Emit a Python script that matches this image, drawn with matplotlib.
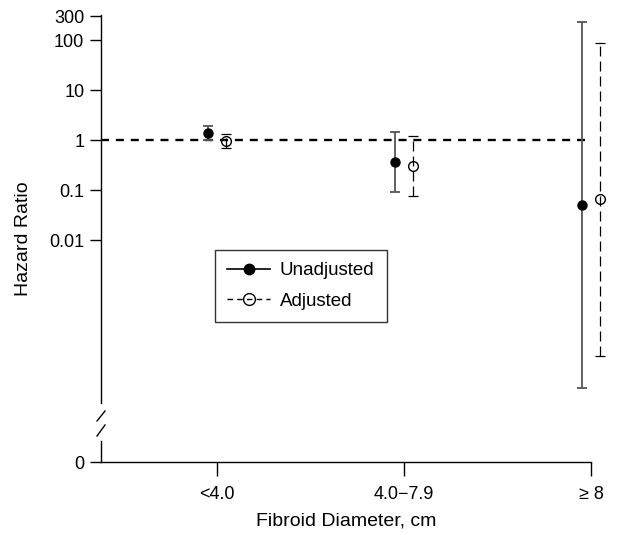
import numpy as np
import matplotlib
matplotlib.use("Agg")
import matplotlib.pyplot as plt
from matplotlib.lines import Line2D

plt.rcParams['font.family'] = ['Liberation Sans', 'DejaVu Sans']

categories = ['<4.0', '4.0\u22127.9', '\u2265 8']
unadj_hr = [1.38, 0.36, 0.050]
unadj_lo = [1.0, 0.092, 1.1e-5]
unadj_hi = [1.9, 1.45, 230.0]
adj_hr = [0.95, 0.30, 0.066]
adj_lo = [0.69, 0.076, 4.8e-5]
adj_hi = [1.3, 1.2, 87.0]
ytick_vals = [0.01, 0.1, 1, 10, 100, 300]
ytick_labels = ['0.01', '0.1', '1', '10', '100', '300']

W, H = 619, 535
fig = plt.figure(figsize=(W / 100, H / 100), dpi=100)
L, R, T, B = 101, 591, 15, 462
ax = fig.add_axes([L / W, (H - B) / H, (R - L) / W, (B - T) / H])

# log mapping: 1 at y=140px, 50 px per decade
def lv(ypx):
    return 10 ** ((140 - ypx) / 50)

ax.set_yscale('log')
ymin, ymax = lv(B), lv(T)
ax.set_ylim(ymin, ymax)
x = np.arange(1, len(categories) + 1)
ax.set_xlim(1 - 116 / 187, 3)

off = 0.048
ux = x - off
axx = x + off

def noclip(obj):
    for a in obj.get_children() if hasattr(obj, 'get_children') else obj:
        a.set_clip_on(False)

# reference line
ax.axhline(1, color='black', lw=1.7, dashes=(3.4, 2.9), zorder=1)

# unadjusted
uy = np.array(unadj_hr)
ue = [uy - np.array(unadj_lo), np.array(unadj_hi) - uy]
eb1 = ax.errorbar(ux, uy, yerr=ue, fmt='none', ecolor='#555555', elinewidth=1.3,
                  capsize=3.8, capthick=1.3, zorder=2)
noclip(eb1)
p1 = ax.plot(ux, uy, 'o', color='black', ms=6.5, zorder=3)
noclip(p1)

# adjusted
ay = np.array(adj_hr)
ae = [ay - np.array(adj_lo), np.array(adj_hi) - ay]
eb2 = ax.errorbar(axx, ay, yerr=ae, fmt='none', ecolor='black', elinewidth=0.9,
                  capsize=3.8, capthick=0.9, zorder=2)
for lc in eb2[2]:
    lc.set_linestyle((0, (8, 4)))
noclip(eb2)
p2 = ax.plot(axx, ay, 'o', color='black', mfc='none', mew=1.0, ms=7, zorder=3)
noclip(p2)

ax.set_yticks([ymin] + ytick_vals)
ax.set_yticklabels(['0'] + ytick_labels)
ax.minorticks_off()
ax.set_xticks(x)
ax.set_xticklabels(categories)
ax.tick_params(axis='both', labelsize=13, length=8, width=1.0, direction='out',
               color='black', pad=4)
ax.tick_params(axis='x', length=10, pad=7)

for s in ['top', 'right']:
    ax.spines[s].set_visible(False)
ax.spines['left'].set_bounds(lv(403), ymax)
ax.spines['left'].set_linewidth(1.0)
ax.spines['bottom'].set_linewidth(1.0)

bt = ax.get_yaxis_transform()
ax.add_line(Line2D([0, 0], [lv(441), lv(462)], transform=bt, color='black',
                   lw=1.0, clip_on=False))
dx = 4 / (R - L)
ax.add_line(Line2D([-dx, dx], [lv(421), lv(411)], transform=bt, color='black',
                   lw=1.0, clip_on=False))
ax.add_line(Line2D([-dx, dx], [lv(436), lv(425)], transform=bt, color='black',
                   lw=1.0, clip_on=False))

ax.set_xlabel('Fibroid Diameter, cm', fontsize=14)
ax.xaxis.set_label_coords(0.5, -(512 - B) / (B - T))
ax.set_ylabel('Hazard Ratio', fontsize=14)
ax.yaxis.set_label_coords(-(L - 32) / (R - L), (B - 239) / (B - T))

h1 = Line2D([], [], color='black', lw=1.2, marker='o', ms=7.5)
h2 = Line2D([], [], color='black', lw=1.0, ls=(0, (4, 3)), marker='o', mfc='none', ms=8.5, mew=1.0)
leg = fig.legend([h1, h2], ['Unadjusted', 'Adjusted'], loc='upper left',
                 bbox_to_anchor=(215 / W, (H - 250) / H), fontsize=13.5,
                 frameon=True, fancybox=False, edgecolor='black',
                 borderaxespad=0, handlelength=2.3, labelspacing=0.7,
                 borderpad=0.65, handletextpad=0.5)
leg.get_frame().set_linewidth(1.0)

fig.savefig('out.png', dpi=100)
